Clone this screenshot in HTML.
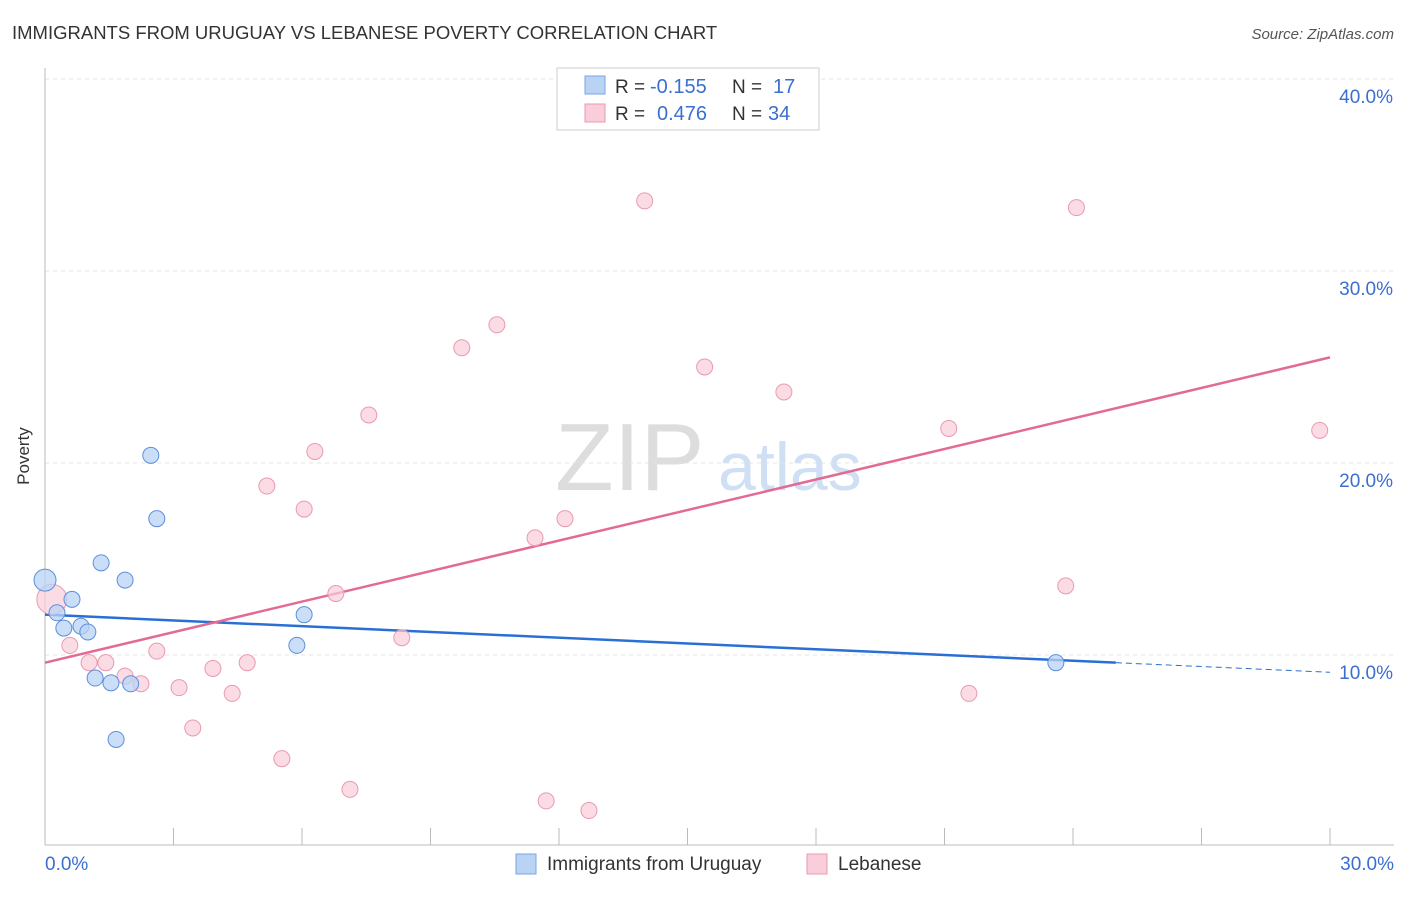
<!DOCTYPE html>
<html><head><meta charset="utf-8"><style>
body{margin:0;background:#fff;font-family:"Liberation Sans",sans-serif;}
svg text{font-family:"Liberation Sans",sans-serif;}
</style></head><body>
<svg id="chart" width="1406" height="892">
<text x="12" y="39" font-size="18.5" fill="#333">IMMIGRANTS FROM URUGUAY VS LEBANESE POVERTY CORRELATION CHART</text>
<text x="1394" y="39" font-size="15" fill="#555" text-anchor="end" font-style="italic">Source: ZipAtlas.com</text>
<text x="29" y="456" font-size="17" fill="#333" transform="rotate(-90 29 456)" text-anchor="middle">Poverty</text>
<text x="555" y="490" font-size="96" fill="#ddd" font-family="Liberation Serif">ZIP</text>
<text x="718" y="490" font-size="68" fill="#cfe0f5">atlas</text>
<g id="grid"></g><g id="axes"></g><g id="lines"></g><g id="pts"></g>
<g>
<rect x="557" y="68" width="262" height="62" fill="#fff" stroke="#ccc"/>
<rect x="585" y="76" width="20" height="18" fill="#b9d3f5" stroke="#7aa6e0"/>
<text x="615" y="93" font-size="19" fill="#333">R =</text>
<text x="650" y="93" font-size="20" fill="#3a6fd0">-0.155</text>
<text x="732" y="93" font-size="19" fill="#333">N =</text>
<text x="773" y="93" font-size="20" fill="#3a6fd0">17</text>
<rect x="585" y="104" width="20" height="18" fill="#f9cdd9" stroke="#e89ab0"/>
<text x="615" y="120" font-size="19" fill="#333">R =</text>
<text x="657" y="120" font-size="20" fill="#3a6fd0">0.476</text>
<text x="732" y="120" font-size="19" fill="#333">N =</text>
<text x="768" y="120" font-size="20" fill="#3a6fd0">34</text>
</g>
<g>
<rect x="516" y="854" width="20" height="20" fill="#b9d3f5" stroke="#7aa6e0"/>
<text x="547" y="870" font-size="19" fill="#333">Immigrants from Uruguay</text>
<rect x="807" y="854" width="20" height="20" fill="#f9cdd9" stroke="#e89ab0"/>
<text x="838" y="870" font-size="19" fill="#333">Lebanese</text>
</g>
</svg>
<script>
const yTicks=[10,20,30,40];
const yTickLabels=["10.0%","20.0%","30.0%","40.0%"];
const xTickLabels=["0.0%","30.0%"];
const uruguayX=[0,0.28,0.63,0.44,0.84,1.0,1.31,1.87,1.17,1.54,2.0,1.66,2.47,2.61,6.05,5.88,23.6];
const uruguayY=[13.9,12.2,12.9,11.4,11.5,11.2,14.8,13.9,8.8,8.55,8.5,5.6,20.4,17.1,12.1,10.5,9.6];
const lebaneseX=[0.16,0.58,1.03,1.42,1.87,2.24,2.61,3.13,3.45,3.92,4.37,4.72,5.18,5.53,6.05,6.3,6.79,7.12,7.56,8.33,9.73,10.55,11.44,11.7,12.14,12.7,14.0,15.4,17.25,21.1,21.57,23.83,24.08,29.76];
const lebaneseY=[12.9,10.5,9.6,9.6,8.9,8.5,10.2,8.3,6.2,9.3,8.0,9.6,18.8,4.6,17.6,20.6,13.2,3.0,22.5,10.9,26.0,27.2,16.1,2.4,17.1,1.9,33.65,25.0,23.7,21.8,8.0,13.6,33.3,21.7];
const uTrend=[12.1,9.6];const uTrendX=[0,25];
const lTrend=[9.6,25.5];
const X=v=>45+v/30*1285, Y=v=>655-(v-10)*19.2;
const NS="http://www.w3.org/2000/svg";
function mk(t,a,p){const e=document.createElementNS(NS,t);for(const k in a)e.setAttribute(k,a[k]);document.getElementById(p).appendChild(e);return e;}
yTicks.forEach((t,i)=>{
 const g=mk('line',{x1:45,x2:1394,y1:Y(t),y2:Y(t),stroke:'#e4e4e4','stroke-dasharray':'4,4'},'grid');
 
 
 const l=mk('text',{x:1393,y:Y(t)+24,'font-size':19,fill:'#3a6fd0','text-anchor':'end'},'axes');
 l.textContent=yTickLabels[i];
 
 
});
mk('line',{x1:45,x2:45,y1:68,y2:845,stroke:'#bbb'},'axes');
mk('line',{x1:45,x2:1394,y1:845,y2:845,stroke:'#bbb'},'axes');
for(let i=0;i<=10;i++){const t=mk('line',{x1:X(i*3),x2:X(i*3),y1:828,y2:845,stroke:'#bbb'},'axes');
 
 }
[[0,'start',45],[1,'end',1394]].forEach(([i,a,x])=>{const l=mk('text',{x:x,y:870,'font-size':19,fill:'#3a6fd0','text-anchor':a},'axes');l.textContent=xTickLabels[i];
 
 });
lebaneseX.forEach((x,i)=>{const c=mk('circle',{cx:X(x),cy:Y(lebaneseY[i]),r:i==0?15:8,fill:'#f9cdd9','fill-opacity':0.7,stroke:'#e89ab0'},'pts');
 
 });
uruguayX.forEach((x,i)=>{const c=mk('circle',{cx:X(x),cy:Y(uruguayY[i]),r:i==0?11:8,fill:'#b9d3f5','fill-opacity':0.75,stroke:'#5d8fd8'},'pts');
 
 });
const slope=(uTrend[1]-uTrend[0])/(uTrendX[1]-uTrendX[0]);
let a=mk('line',{x1:X(0),y1:Y(uTrend[0]),x2:X(25),y2:Y(uTrend[1]),stroke:'#2a6fd6','stroke-width':2.5},'lines');


a=mk('line',{x1:X(25),y1:Y(uTrend[1]),x2:X(30),y2:Y(uTrend[1]+slope*5),stroke:'#2a6fd6','stroke-width':1,'stroke-dasharray':'6,4'},'lines');


a=mk('line',{x1:X(0),y1:Y(lTrend[0]),x2:X(30),y2:Y(lTrend[1]),stroke:'#e36b93','stroke-width':2.5},'lines');


</script>
</body></html>
